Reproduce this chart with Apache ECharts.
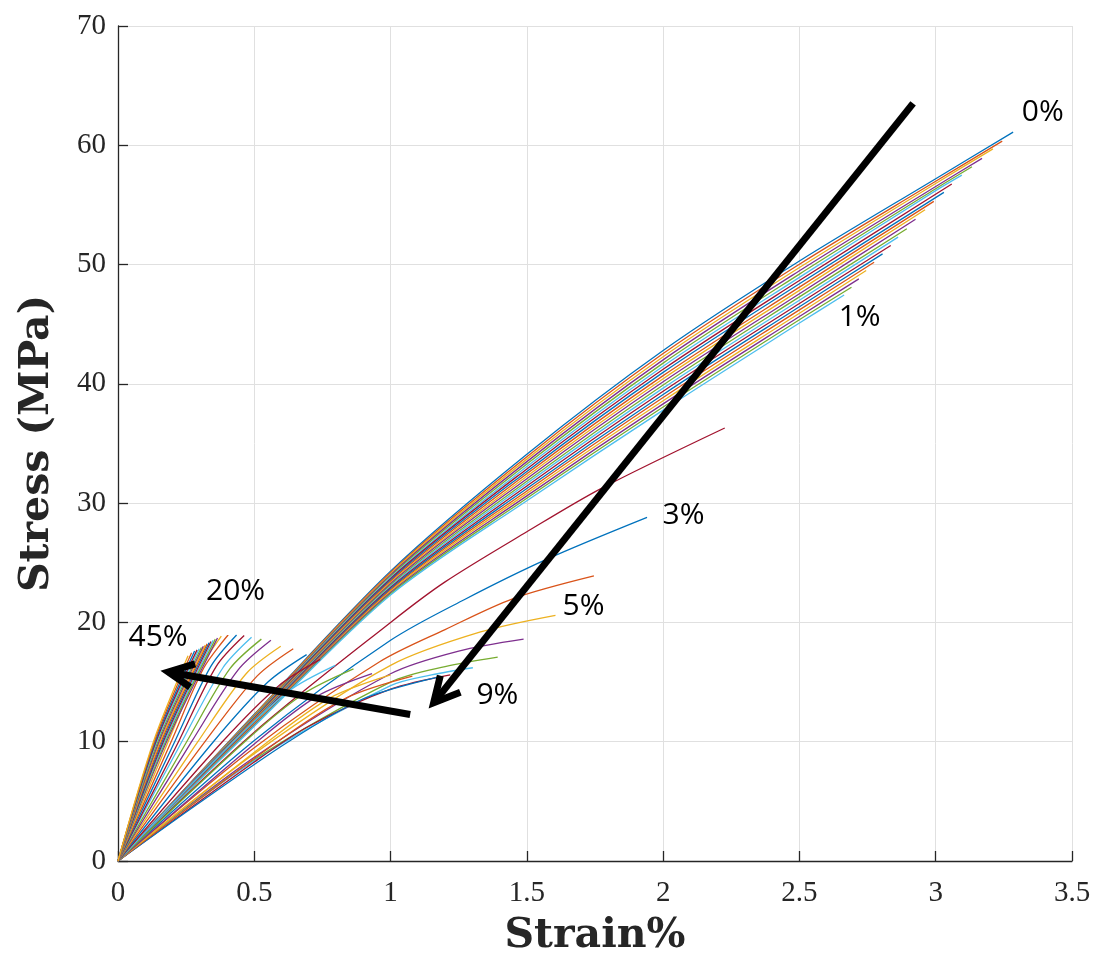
<!DOCTYPE html>
<html><head><meta charset="utf-8">
<script src="https://cdn.jsdelivr.net/npm/echarts@6/dist/echarts.min.js"></script>
<style>html,body{margin:0;padding:0;background:#fff}#c{width:1095px;height:962px}</style>
</head><body><div id="c"></div>
<script>
// ---- axis ticks ----
const strainTicks = [0, 0.5, 1, 1.5, 2, 2.5, 3, 3.5];
const stressTicks = [0, 10, 20, 30, 40, 50, 60, 70];

// ---- curves 0% .. 1% (strain %, stress MPa) ----
const curves0to1 = [
  [[0,0],[0.5,12.3],[1,24.3],[1.5,34.1],[2,42.8],[2.5,50.3],[3,57.2],[3.284,61.1]],
  [[0,0],[0.5,12.25],[1,24.19],[1.5,33.89],[2,42.54],[2.5,50.03],[3,56.98],[3.244,60.35]],
  [[0,0],[0.5,12.2],[1,24.09],[1.5,33.69],[2,42.27],[2.5,49.75],[3,56.8],[3.21,59.7]],
  [[0,0],[0.5,12.14],[1,23.98],[1.5,33.48],[2,42.01],[2.5,49.48],[3,56.55],[3.17,58.9]],
  [[0,0],[0.5,12.09],[1,23.88],[1.5,33.28],[2,41.74],[2.5,49.2],[3,56.36],[3.133,58.2]],
  [[0,0],[0.5,12.04],[1,23.77],[1.5,33.07],[2,41.48],[2.5,48.93],[3,56.2],[3.096,57.5]],
  [[0,0],[0.5,11.98],[1,23.67],[1.5,32.87],[2,41.22],[2.5,48.66],[3.059,56.75]],
  [[0,0],[0.5,11.93],[1,23.56],[1.5,32.66],[2,40.96],[2.5,48.39],[3.03,56.05]],
  [[0,0],[0.5,11.88],[1,23.46],[1.5,32.46],[2,40.69],[2.5,48.11],[2.993,55.3]],
  [[0,0],[0.5,11.83],[1,23.35],[1.5,32.25],[2,40.43],[2.5,47.84],[2.961,54.6]],
  [[0,0],[0.5,11.77],[1,23.25],[1.5,32.05],[2,40.17],[2.5,47.56],[2.926,53.8]],
  [[0,0],[0.5,11.72],[1,23.14],[1.5,31.84],[2,39.91],[2.5,47.29],[2.894,53.0]],
  [[0,0],[0.5,11.67],[1,23.04],[1.5,31.64],[2,39.64],[2.5,47.01],[2.862,52.3]],
  [[0,0],[0.5,11.62],[1,22.93],[1.5,31.43],[2,39.38],[2.5,46.74],[2.835,51.6]],
  [[0,0],[0.5,11.56],[1,22.83],[1.5,31.23],[2,39.11],[2.5,46.47],[2.805,50.9]],
  [[0,0],[0.5,11.51],[1,22.72],[1.5,31.02],[2,38.85],[2.5,46.2],[2.774,50.2]],
  [[0,0],[0.5,11.46],[1,22.62],[1.5,30.82],[2,38.59],[2.5,45.92],[2.745,49.5]],
  [[0,0],[0.5,11.41],[1,22.51],[1.5,30.61],[2,38.32],[2.5,45.65],[2.718,48.8]],
  [[0,0],[0.5,11.35],[1,22.41],[1.5,30.41],[2,38.06],[2.5,45.38],[2.691,48.1]],
  [[0,0],[0.5,11.3],[1,22.3],[1.5,30.2],[2,37.8],[2.5,45.1],[2.664,47.45]]
];

// ---- curves 2% .. 9% ----
const curves2to9 = [
  [[0,0],[0.5,10.8],[1,20.0],[1.2,23.4],[1.5,27.6],[1.77,31.2],[2.226,36.3]],
  [[0,0],[0.5,10.1],[1,18.5],[1.27,21.9],[1.574,25.3],[1.941,28.8]],
  [[0,0],[0.5,9.5],[0.96,16.7],[1.2,19.4],[1.45,22.0],[1.746,23.9]],
  [[0,0],[0.5,9.0],[1,16.4],[1.33,19.2],[1.605,20.6]],
  [[0,0],[0.5,8.7],[1,15.7],[1.25,17.6],[1.488,18.6]],
  [[0,0],[0.5,8.5],[1,15.0],[1.2,16.3],[1.393,17.1]],
  [[0,0],[0.5,8.4],[1,14.7],[1.15,15.6],[1.302,16.2]],
  [[0,0],[0.5,8.3],[0.7,11.3],[1,14.4],[1.219,15.6]]
];

// ---- curves 10% .. 45% ----
const curves10to45 = [
  [[0,0],[0.3,4.9],[0.625,10.0],[0.9,13.6],[1.17,15.4]],
  [[0,0],[0.585,10],[0.84,13.7],[1.08,15.5]],
  [[0,0],[0.55,10],[0.78,13.7],[1.0,15.6]],
  [[0,0],[0.51,10],[0.73,13.8],[0.932,15.7]],
  [[0,0],[0.465,10],[0.68,14.0],[0.864,16.1]],
  [[0,0],[0.423,10],[0.63,14.3],[0.797,16.4]],
  [[0,0],[0.383,10],[0.59,14.7],[0.742,16.9]],
  [[0,0],[0.35,10],[0.55,15.0],[0.692,17.3]],
  [[0,0],[0.319,10],[0.51,15.5],[0.643,17.8]],
  [[0,0],[0.293,10],[0.47,15.7],[0.597,18.0]],
  [[0,0],[0.27,10],[0.44,16.0],[0.561,18.5]],
  [[0,0],[0.252,10],[0.41,16.1],[0.526,18.6]],
  [[0,0],[0.234,10],[0.385,16.2],[0.49,18.75]],
  [[0,0],[0.222,10],[0.36,16.3],[0.463,18.9]],
  [[0,0],[0.208,10],[0.34,16.3],[0.435,18.95]],
  [[0,0],[0.195,10],[0.315,16.2],[0.404,18.95]],
  [[0,0],[0.184,10],[0.295,15.9],[0.379,18.85]],
  [[0,0],[0.178,10],[0.365,18.7]],
  [[0,0],[0.174,10],[0.357,18.6]],
  [[0,0],[0.170,10],[0.349,18.5]],
  [[0,0],[0.166,10],[0.341,18.4]],
  [[0,0],[0.162,10],[0.334,18.3]],
  [[0,0],[0.158,10],[0.327,18.2]],
  [[0,0],[0.154,10],[0.32,18.1]],
  [[0,0],[0.150,10],[0.313,18.0]],
  [[0,0],[0.146,10],[0.306,17.9]],
  [[0,0],[0.142,10],[0.298,17.8]],
  [[0,0],[0.139,10],[0.29,17.7]],
  [[0,0],[0.136,10],[0.281,17.6]],
  [[0,0],[0.133,10],[0.27,17.45]],
  [[0,0],[0.13,10],[0.257,17.2]]
];

// ---- annotations (data coordinates) ----
const levelLabels = ['0%', '1%', '3%', '5%', '9%', '20%', '45%'];
const levelLabelAt = [[3.393,62.76],[2.721,45.59],[2.075,29.0],[1.708,21.3],[1.392,13.85],[0.4315,22.6],[0.1469,18.7]];
const arrowDownShaft = [[2.917,63.51],[1.158,13.26]];
const arrowDownHead = [[1.1825,15.54],[1.158,13.26],[1.256,14.15]];
const arrowLeftShaft = [[1.072,12.28],[0.1847,15.85]];
const arrowLeftHead = [[0.2828,16.52],[0.1847,15.85],[0.2644,14.57]];

const matlabColors = ['#0072BD','#D95319','#EDB120','#7E2F8E','#77AC30','#4DBEEE','#A2142F'];

const allCurves = [...curves0to1, ...curves2to9, ...curves10to45];
const series = allCurves.map((pts, i) => ({
  type: 'line', data: pts, showSymbol: false, smooth: 0.3,
  lineStyle: { color: matlabColors[i % 7], width: 1.3 }, silent: true, z: 2
}));
function arrowSeries(pts) {
  return { type: 'line', data: pts, showSymbol: false, silent: true, z: 5,
    lineStyle: { color: '#000', width: 7, join: 'miter', cap: 'butt' } };
}
series.push(arrowSeries(arrowDownShaft), arrowSeries(arrowDownHead),
            arrowSeries(arrowLeftShaft), arrowSeries(arrowLeftHead));
series.push({
  type: 'scatter', symbolSize: 0, silent: true, z: 6,
  data: levelLabels.map((t, i) => ({ name: t, value: levelLabelAt[i] })),
  label: { show: true, position: 'inside', formatter: p => p.name,
    fontFamily: 'Open Sans', fontSize: 30, color: '#000', opacity: 1 }
});

const axisColor = '#262626';
const chart = echarts.init(document.getElementById('c'), null, { renderer: 'canvas' });
chart.setOption({
  animation: false,
  backgroundColor: '#fff',
  grid: { left: 118, right: 23, top: 26, bottom: 100 },
  xAxis: {
    type: 'value', min: strainTicks[0], max: strainTicks[strainTicks.length - 1],
    interval: strainTicks[1] - strainTicks[0],
    name: 'Strain%', nameLocation: 'middle', nameGap: 55,
    nameTextStyle: { fontFamily: 'DejaVu Serif', fontWeight: 'bold', fontSize: 41, color: axisColor },
    axisLine: { show: true, lineStyle: { color: axisColor, width: 1.3 } },
    axisTick: { show: true, inside: true, length: 10, lineStyle: { color: axisColor, width: 1.3 } },
    axisLabel: { fontFamily: 'Liberation Serif', fontSize: 29, color: axisColor, margin: 18 },
    splitLine: { show: true, lineStyle: { color: '#e0e0e0', width: 1 } }
  },
  yAxis: {
    type: 'value', min: stressTicks[0], max: stressTicks[stressTicks.length - 1],
    interval: stressTicks[1] - stressTicks[0],
    name: 'Stress (MPa)', nameLocation: 'middle', nameGap: 60, nameRotate: 90,
    nameTextStyle: { fontFamily: 'DejaVu Serif', fontWeight: 'bold', fontSize: 41, color: axisColor },
    axisLine: { show: true, lineStyle: { color: axisColor, width: 1.3 } },
    axisTick: { show: true, inside: true, length: 10, lineStyle: { color: axisColor, width: 1.3 } },
    axisLabel: { fontFamily: 'Liberation Serif', fontSize: 29, color: axisColor, margin: 12 },
    splitLine: { show: true, lineStyle: { color: '#e0e0e0', width: 1 } }
  },
  series
});
</script></body></html>
